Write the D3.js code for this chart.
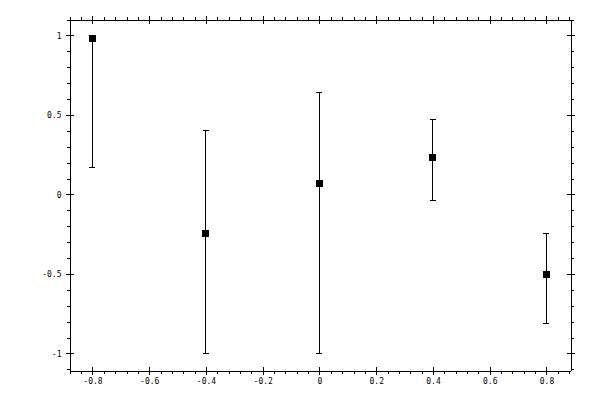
<!DOCTYPE html>
<html>
<head>
<meta charset="utf-8">
<script src="https://cdn.jsdelivr.net/npm/d3@7"></script>
<style>
  body { margin: 0; background: #fff; }
  text { font-family: "DejaVu Sans Mono", monospace; font-size: 8px; fill: #000; }
</style>
</head>
<body>
<div id="chart"></div>
<script>
const width = 600;
const height = 400;

// values
const xValues = [-0.8, -0.4, 0, 0.4, 0.8];
const yValues = [0.98, -0.245, 0.07, 0.233, -0.503];
const yLow = [0.17, -1.0, -1.0, -0.04, -0.81];
const yHigh = [0.98, 0.4, 0.64, 0.47, -0.245];

const xMajor = [-0.8, -0.6, -0.4, -0.2, 0, 0.2, 0.4, 0.6, 0.8];
const yMajor = [-1, -0.5, 0, 0.5, 1];

const plotLeft = 69.5, plotRight = 570.5, plotTop = 19.5, plotBottom = 370.5;

const x = d3.scaleLinear().domain([-0.881, 0.8846]).range([plotLeft, plotRight]);
const y = d3.scaleLinear().domain([-1.107, 1.1006]).range([plotBottom, plotTop]);

const xMinor = d3.range(-22, 23).map(i => +(i * 0.04).toFixed(2))
  .filter(v => !xMajor.some(m => Math.abs(m - v) < 1e-9));
const yMinor = d3.range(-11, 12).map(i => +(i * 0.1).toFixed(2))
  .filter(v => !yMajor.some(m => Math.abs(m - v) < 1e-9));

const fmt = d => String(+d.toFixed(2));

const svg = d3
  .select("#chart")
  .append("svg")
  .attr("width", width)
  .attr("height", height);

const axes = svg.append("g").attr("shape-rendering", "crispEdges");

// bottom
const gb = axes.append("g").attr("transform", `translate(0 ${plotBottom})`);
gb.call(d3.axisBottom(x).tickValues(xMinor).tickSize(3).tickSizeOuter(0).tickFormat(""));
gb.append("g").call(d3.axisBottom(x).tickValues(xMajor).tickSize(4).tickPadding(4).tickSizeOuter(0).tickFormat(fmt))
  .call(g => g.select(".domain").remove())
  .call(g => g.selectAll(".tick line").attr("y1", -4).attr("y2", 4));

// top
const gt = axes.append("g").attr("transform", `translate(0 ${plotTop})`);
gt.call(d3.axisTop(x).tickValues(xMinor).tickSize(3).tickSizeOuter(0).tickFormat(""));
gt.append("g").call(d3.axisTop(x).tickValues(xMajor).tickSizeOuter(0).tickFormat(""))
  .call(g => g.select(".domain").remove())
  .call(g => g.selectAll(".tick line").attr("y1", -4).attr("y2", 4));

// left
const gl = axes.append("g").attr("transform", `translate(${plotLeft} 0)`);
gl.call(d3.axisLeft(y).tickValues(yMinor).tickSize(3).tickSizeOuter(0).tickFormat(""));
gl.append("g").call(d3.axisLeft(y).tickValues(yMajor).tickSize(4).tickPadding(4).tickSizeOuter(0).tickFormat(fmt))
  .call(g => g.select(".domain").remove())
  .call(g => g.selectAll(".tick line").attr("x1", -4).attr("x2", 4));

// right
const gr = axes.append("g").attr("transform", `translate(${plotRight} 0)`);
gr.call(d3.axisRight(y).tickValues(yMinor).tickSize(3).tickSizeOuter(0).tickFormat(""));
gr.append("g").call(d3.axisRight(y).tickValues(yMajor).tickSizeOuter(0).tickFormat(""))
  .call(g => g.select(".domain").remove())
  .call(g => g.selectAll(".tick line").attr("x1", -4).attr("x2", 4));

axes.selectAll("g").attr("font-family", null).attr("font-size", null);

// error bars
const idx = d3.range(xValues.length);
const bars = svg.append("g").attr("shape-rendering", "crispEdges")
  .attr("stroke", "#000").attr("stroke-width", 1);

bars.selectAll("line.stem")
  .data(idx)
  .join("line")
  .attr("class", "stem")
  .attr("x1", i => x(xValues[i]))
  .attr("x2", i => x(xValues[i]))
  .attr("y1", i => y(yLow[i]))
  .attr("y2", i => y(yHigh[i]));

bars.selectAll("line.capLo")
  .data(idx)
  .join("line")
  .attr("class", "capLo")
  .attr("x1", i => x(xValues[i]) - 3)
  .attr("x2", i => x(xValues[i]) + 3)
  .attr("y1", i => y(yLow[i]))
  .attr("y2", i => y(yLow[i]));

bars.selectAll("line.capHi")
  .data(idx)
  .join("line")
  .attr("class", "capHi")
  .attr("x1", i => x(xValues[i]) - 3)
  .attr("x2", i => x(xValues[i]) + 3)
  .attr("y1", i => y(yHigh[i]))
  .attr("y2", i => y(yHigh[i]));

// points
svg.append("g")
  .selectAll("rect")
  .data(idx)
  .join("rect")
  .attr("shape-rendering", "crispEdges")
  .attr("x", i => x(xValues[i]) - 3.5)
  .attr("y", i => y(yValues[i]) - 3.5)
  .attr("width", 7)
  .attr("height", 7)
  .attr("fill", "#000");
</script>
</body>
</html>
